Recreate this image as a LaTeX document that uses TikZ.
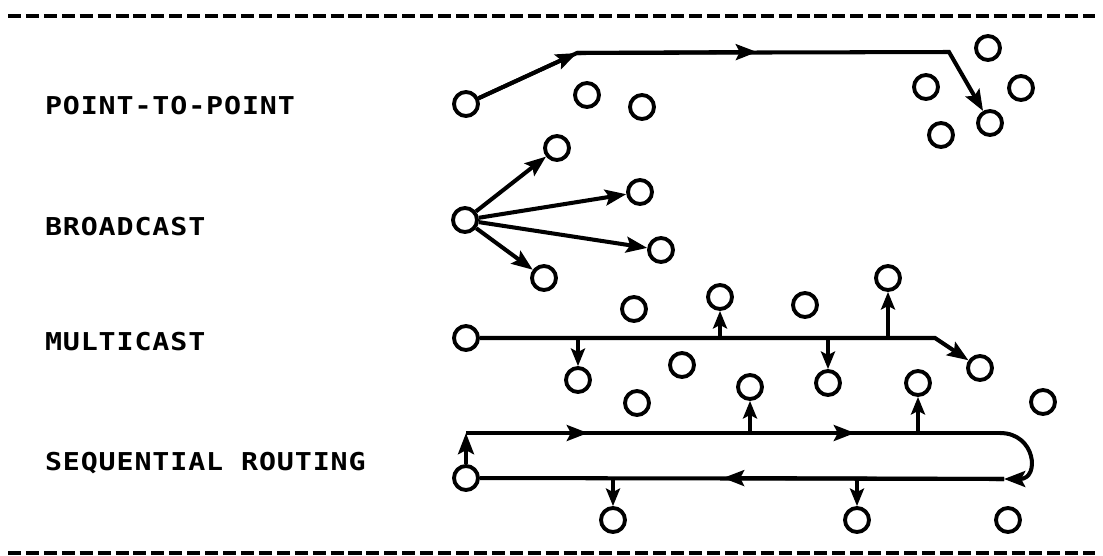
\documentclass[tikz,border=0pt]{standalone}
\usepackage{fontspec}
\newfontfamily\plotfont[FakeStretch=1.15,LetterSpace=3.6]{DejaVu Sans Mono}
\usetikzlibrary{arrows.meta}
\tikzset{
  host/.style = {circle, draw, line width=2.2pt, minimum size=0.48cm,
                 inner sep=0pt},
  arr/.style  = {-{Stealth[length=12pt,width=9pt,inset=2.2pt]}},
  thin arr/.style = {-{Stealth[length=10pt,width=8pt,inset=2pt]},
                     line width=1.8pt},
  lab/.style  = {anchor=west, inner sep=0pt,
                 font=\plotfont\bfseries\fontsize{14pt}{16pt}\selectfont},
  rule/.style = {line width=2pt, dash pattern=on 7.4pt off 2.8pt}
}

\begin{document}
\begin{tikzpicture}[x=0.02cm, y=-0.02cm, line width=2.3pt]
  \useasboundingbox (0,0) rectangle (1103,555);
  \draw[rule] (8,16) -- (1095,16);
  \draw[rule] (8,553) -- (1095,553);

  \node[lab] (lpp) at (43,106) {POINT-TO-POINT};
  \node[lab] (lbc) at (43,227) {BROADCAST};
  \node[lab] (lmc) at (43,342) {MULTICAST};
  \node[lab] (lsr) at (43,463) {SEQUENTIAL ROUTING};

  % point-to-point
  \node[host] (p0) at (466,104) {};
  \node[host] (p1) at (587,95) {};
  \node[host] (p2) at (642,107) {};
  \node[host] (p3) at (988,48) {};
  \node[host] (p4) at (926,87) {};
  \node[host] (p5) at (1021,88) {};
  \node[host] (p6) at (941,135) {};
  \node[host] (pt) at (990,123) {};
  \coordinate (pk1) at (577,53);
  \coordinate (pm) at (757,52);
  \coordinate (pk2) at (949,52);
  \draw[arr] (p0) -- (pk1) -- (pk2) -- (pt);
  \draw[arr] (p0) -- (pk1);
  \draw[arr] (pk1) -- (pm);

  % broadcast
  \node[host] (b0) at (465,220) {};
  \node[host] (b1) at (557,148) {};
  \node[host] (b2) at (640,192) {};
  \node[host] (b3) at (661,250) {};
  \node[host] (b4) at (544,278) {};
  \foreach \t in {b1,b2,b3,b4}
    \draw[arr] (b0) -- (\t);

  % multicast
  \node[host] (m0) at (466,338) {};
  \node[host] (ma) at (578,380) {};
  \node[host] (mb) at (720,297) {};
  \node[host] (mc) at (828,383) {};
  \node[host] (md) at (888,278) {};
  \node[host] (mt) at (980,368) {};
  \node[host] (m1) at (634,309) {};
  \node[host] (m2) at (805,305) {};
  \node[host] (m3) at (682,365) {};
  \coordinate (mk) at (935,338);
  \draw[arr] (m0) -- (mk) -- (mt);
  \foreach \t in {ma,mb,mc,md}
    \draw[thin arr] (\t |- m0) -- (\t);

  % sequential routing
  \node[host] (s0) at (466,478) {};
  \node[host] (sa) at (750,387) {};
  \node[host] (sb) at (918,383) {};
  \node[host] (sc) at (613,520) {};
  \node[host] (sd) at (857,520) {};
  \node[host] (s1) at (637,403) {};
  \node[host] (s2) at (1043,402) {};
  \node[host] (s3) at (1008,520) {};
  \coordinate (st) at (466,433);
  \coordinate (sm1) at (588,433);
  \coordinate (sm2) at (855,433);
  \coordinate (se) at (1000,433);
  \coordinate (sf) at (1004,479);
  \coordinate (sm3) at (723,478);
  \draw (st) -- (se);
  \draw (sf) -- (s0);
  \draw[arr] (s0) -- (st);
  \draw[arr] (st) -- (sm1);
  \draw[arr] (st) -- (sm2);
  \draw[arr] (se) .. controls (1036,433) and (1040,479) .. (sf);
  \draw[arr] (sf) -- (sm3);
  \foreach \t in {sa,sb}
    \draw[thin arr] (\t |- st) -- (\t);
  \foreach \t in {sc,sd}
    \draw[thin arr] (\t |- s0) -- (\t);
\end{tikzpicture}
\end{document}
